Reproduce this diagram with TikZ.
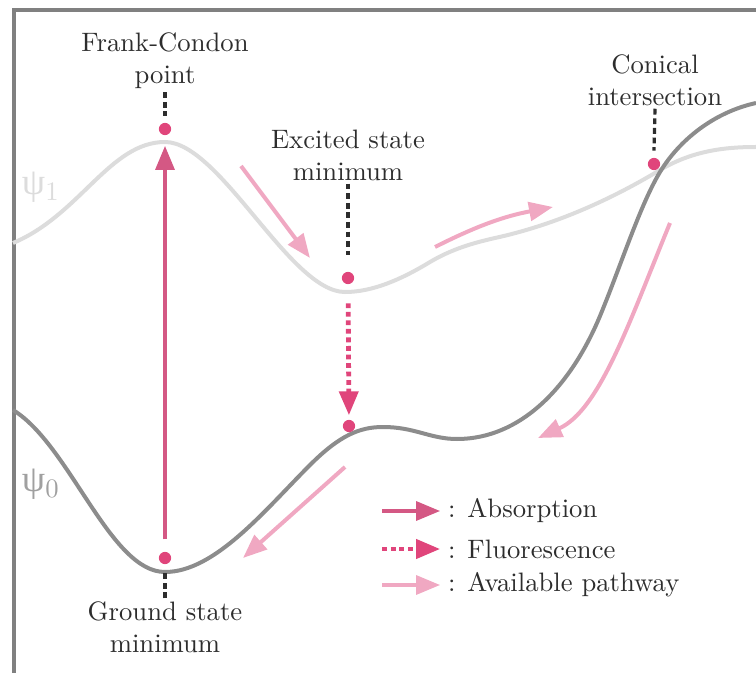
\documentclass[tikz,border=0pt]{standalone}
\usepackage{fontspec}
\newfontfamily\greekserif{Liberation Serif}
\usetikzlibrary{arrows.meta}
\definecolor{surfup}{RGB}{220,220,220}
\definecolor{surfdown}{RGB}{140,140,140}
\definecolor{framegrey}{RGB}{128,128,128}
\definecolor{dotpink}{RGB}{224,69,123}
\definecolor{abspink}{RGB}{212,88,132}
\definecolor{pathpink}{RGB}{240,168,194}
\definecolor{labelgrey}{RGB}{45,45,45}
\newcommand{\statedot}[2]{%
 \node[statept] ({#1}) at ({#2}) {};%
}
\newcommand{\surflabel}[1]{{\greekserif ψ}$_{#1}$}
\tikzset{
  statept/.style={circle,fill=dotpink,inner sep=0pt,minimum size=4.6pt},
  statelabel/.style={align=center,text=labelgrey,inner sep=1pt},
  pointer/.style={labelgrey,line width=1.2pt,dash pattern=on 2.2pt off 1.4pt},
  surface/.style={line width=1.5pt},
  tip/.style={-{Triangle[width=7pt,length=9pt]}},
  absorb/.style={tip,abspink,line width=1.5pt},
  fluor/.style={tip,dotpink,line width=1.8pt,dash pattern=on 1.8pt off 1.4pt},
  pathway/.style={tip,pathpink,line width=1.5pt}
}
\begin{document}
\begin{tikzpicture}[x=0.375pt,y=-0.375pt]
  \useasboundingbox (0,0) rectangle (756,673);
  % frame
  \draw[framegrey,line width=1.5pt] (13.5,673) -- (13.5,10.5) -- (756,10.5);
  % potential energy surfaces
  \draw[surfup,surface] (13,243) .. controls (80,215) and (110,142) .. (165,142)
    .. controls (220,142) and (290,292) .. (345,292)
    .. controls (373,292) and (402,279) .. (430,262)
    .. controls (452,249) and (473,243) .. (495,238)
    .. controls (550,226) and (605,203) .. (660,170)
    .. controls (692,151) and (724,147) .. (756,147);
  \draw[surfdown,surface] (13,410) .. controls (70,445) and (110,572) .. (165,572)
    .. controls (215,572) and (265,510) .. (310,465)
    .. controls (340,435) and (360,427) .. (383,427)
    .. controls (415,427) and (430,439) .. (457,439)
    .. controls (520,439) and (570,388) .. (600,316)
    .. controls (620,268) and (640,205) .. (660,172)
    .. controls (680,139) and (715,112) .. (756,103);
  \node[surfup,font=\fontsize{14}{16}\selectfont] (psi1) at (41,187) {\surflabel{1}};
  \node[framegrey!75,font=\fontsize{14}{16}\selectfont] (psi0) at (41,484) {\surflabel{0}};
  % points of interest
  \statedot{fc}{165,129}
  \statedot{esm}{348,278}
  \statedot{fl}{349,426}
  \statedot{gsm}{165,558}
  \statedot{ci}{654,164}
  \node[statelabel] (fclab) at (165,61) {Frank-Condon\\point};
  \node[statelabel] (esmlab) at (348,155) {Excited state\\minimum};
  \node[statelabel] (cilab) at (655,80) {Conical\\intersection};
  \node[statelabel] (gsmlab) at (165,627) {Ground state\\minimum};
  \draw[pointer] (fclab.south) -- ([yshift=2.5pt]fc.north);
  \draw[pointer] (esmlab.south) -- ([yshift=6pt]esm.north);
  \draw[pointer] (cilab.south) -- ([yshift=2.5pt]ci.north);
  \draw[pointer] (gsmlab.north) -- ([yshift=-2.5pt]gsm.south);
  % transitions
  \draw[absorb,shorten <=4.5pt,shorten >=3.8pt] (gsm) -- (fc);
  \draw[fluor,shorten <=7pt,shorten >=1.5pt] (esm) -- (fl);
  % available pathways
  \coordinate (p1a) at (241,166); \coordinate (p1b) at (310,258);
  \coordinate (p2a) at (435,247); \coordinate (p2b) at (553,207);
  \coordinate (p3a) at (670,223); \coordinate (p3b) at (538,438);
  \coordinate (p4a) at (345,467); \coordinate (p4b) at (243,558);
  \draw[pathway] (p1a) -- (p1b);
  \draw[pathway] (p2a) to[bend left=8] (p2b);
  \draw[pathway] (p3a) .. controls (630,320) and (600,410) .. (p3b);
  \draw[pathway] (p4a) -- (p4b);
  % legend
  \node[statelabel,anchor=west] (legabs) at (445,511) {: Absorption};
  \node[statelabel,anchor=west] (legfl) at (445,549) {: Fluorescence};
  \node[statelabel,anchor=west] (legpw) at (445,585) {: Available pathway};
  \draw[absorb] ([xshift=-23.5pt]legabs.west) -- ([xshift=-1.8pt]legabs.west);
  \draw[fluor] ([xshift=-23.5pt]legfl.west) -- ([xshift=-1.8pt]legfl.west);
  \draw[pathway] ([xshift=-23.5pt]legpw.west) -- ([xshift=-1.8pt]legpw.west);
\end{tikzpicture}
\end{document}
